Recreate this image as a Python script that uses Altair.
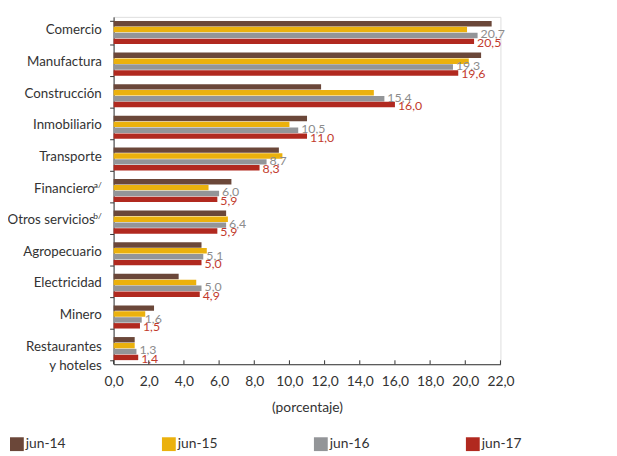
import altair as alt
import pandas as pd

cats = ["Comercio", "Manufactura", "Construcción", "Inmobiliario", "Transporte",
        "Financiero", "Otros servicios", "Agropecuario", "Electricidad", "Minero",
        "Restaurantes y hoteles"]
cat_text = ["Comercio", "Manufactura", "Construcción", "Inmobiliario", "Transporte",
            "Financiero", "Otros servicios", "Agropecuario", "Electricidad", "Minero",
            "Restaurantes\ny hoteles"]
cat_sup = ["", "", "", "", "", "a/", "b/", "", "", "", ""]
series = ["jun-14", "jun-15", "jun-16", "jun-17"]
jun14 = [21.5, 20.9, 11.8, 11.0, 9.4, 6.7, 6.4, 5.0, 3.7, 2.3, 1.2]
jun15 = [20.1, 20.2, 14.8, 10.0, 9.6, 5.4, 6.5, 5.3, 4.7, 1.8, 1.2]
jun16 = [20.7, 19.3, 15.4, 10.5, 8.7, 6.0, 6.4, 5.1, 5.0, 1.6, 1.3]
jun17 = [20.5, 19.6, 16.0, 11.0, 8.3, 5.9, 5.9, 5.0, 4.9, 1.5, 1.4]
colors = ["#6B4739", "#EBB10D", "#939598", "#B1291F"]
x_ticks = [0, 2, 4, 6, 8, 10, 12, 14, 16, 18, 20, 22]

FONT = "Lato"
TXT = "#333333"

rows = []
for s, vals in zip(series, [jun14, jun15, jun16, jun17]):
    for c, v in zip(cats, vals):
        rows.append({"cat": c, "serie": s, "val": v,
                     "lbl": f"{v:.1f}".replace(".", ",")})
df = pd.DataFrame(rows)
cdf = pd.DataFrame({"cat": cats, "text": cat_text, "sup": cat_sup,
                    "hasSup": [1 if s else 0 for s in cat_sup]})
tdf = pd.DataFrame({"t": x_ticks})

yscale = alt.Scale(domain=cats, paddingInner=0.27, paddingOuter=0.13)
xscale = alt.Scale(domain=[0, 22], nice=False)
yoff = alt.YOffset("serie:N", sort=series, scale=alt.Scale(domain=series, paddingInner=0.08))

xaxis = alt.Axis(values=x_ticks, ticks=False, grid=False,
                 labelExpr="replace(format(datum.value, '.1f'), '.', ',')",
                 labelFont=FONT, labelFontSize=14, labelColor=TXT,
                 labelOverlap=False, labelBound=False, labelFlush=False,
                 labelPadding=11, domainColor="#333", domainWidth=1,
                 title="(porcentaje)", titleFont=FONT, titleFontSize=14,
                 titleFontWeight="normal", titleColor=TXT, titlePadding=12)
yaxis = alt.Axis(labels=False, title=None, tickBand="extent", tickSize=4,
                 tickColor="#333", domainColor="#333", grid=False)


def X(f):
    return alt.X(f, scale=xscale, axis=xaxis, title="(porcentaje)")


Y = alt.Y("cat:N", scale=yscale, sort=cats, axis=yaxis, title=None)

bars = alt.Chart(df).mark_bar().encode(
    x=X("val:Q"), y=Y, yOffset=yoff,
    color=alt.Color("serie:N", scale=alt.Scale(domain=series, range=colors),
                    legend=alt.Legend(orient="none", legendX=-105, legendY=426,
                                      direction="horizontal", columns=4,
                                      columnPadding=97, title=None,
                                      symbolType="square", symbolSize=196,
                                      symbolStrokeWidth=0, labelOffset=2,
                                      labelFont=FONT, labelFontSize=14,
                                      labelColor=TXT)),
)

gray_lbl = alt.Chart(df[df.serie == "jun-16"]).mark_text(
    align="left", baseline="middle", dx=3, dy=-1, font=FONT, fontSize=12.5,
    color="#8C8C8C").encode(x=X("val:Q"), y=Y, yOffset=yoff, text="lbl:N")

red_lbl = alt.Chart(df[df.serie == "jun-17"]).mark_text(
    align="left", baseline="middle", dx=3, dy=1.5, font=FONT, fontSize=12.5,
    color="#C23A2C").encode(x=X("val:Q"), y=Y, yOffset=yoff, text="lbl:N")

cat_lbl = alt.Chart(cdf[cdf.hasSup == 0]).mark_text(
    align="right", baseline="middle", font=FONT, fontSize=13.5, color=TXT,
    lineBreak="\n", lineHeight=20, dx=-12, dy=-2).encode(
    x=alt.value(0), y=Y, text="text:N")

cat_lbl_sup = alt.Chart(cdf[cdf.hasSup == 1]).mark_text(
    align="right", baseline="middle", font=FONT, fontSize=13.5, color=TXT,
    dx=-19, dy=-2).encode(x=alt.value(0), y=Y, text="text:N")

sup_lbl = alt.Chart(cdf[cdf.hasSup == 1]).mark_text(
    align="right", baseline="middle", font=FONT, fontSize=8.5, color=TXT,
    dx=-12, dy=-6).encode(x=alt.value(0), y=Y, text="sup:N")

xticks = alt.Chart(tdf).mark_rule(color="#333", strokeWidth=1).encode(
    x=X("t:Q"), y=alt.value(348), y2=alt.value(352))

chart = alt.layer(bars, gray_lbl, red_lbl, cat_lbl, cat_lbl_sup, sup_lbl, xticks).properties(
    width=392, height=352,
    autosize=alt.AutoSizeParams(type="none"),
    padding={"left": 107, "top": 6, "right": 110, "bottom": 90},
).configure_view(stroke=None).configure(background="white")

chart.save("out.html", embed_options={"renderer": "svg", "actions": False})
